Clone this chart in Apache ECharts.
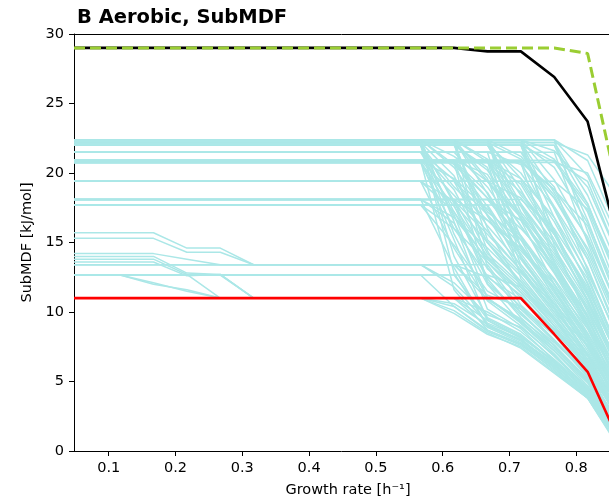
<!DOCTYPE html>
<html>
<head>
<meta charset="utf-8">
<script src="https://cdn.jsdelivr.net/npm/echarts@6/dist/echarts.min.js"></script>
<style>html,body{margin:0;padding:0;background:#fff}#c{width:609px;height:504px}</style>
</head>
<body>
<div id="c"></div>
<script>
const titleText = 'B Aerobic, SubMDF';
const xName = 'Growth rate [h\u207B\u00B9]';
const yName = 'SubMDF [kJ/mol]';
const xTicks = [0.1, 0.2, 0.3, 0.4, 0.5, 0.6, 0.7, 0.8];
const growthRates = [0.048, 0.117, 0.167, 0.217, 0.267, 0.317, 0.367, 0.417, 0.467, 0.517, 0.567, 0.617, 0.667, 0.717, 0.767, 0.817, 0.867];

const blackLine = [29,29,29,29,29,29,29,29,29,29,29,29,28.75,28.75,26.9,23.7,14.2];
const greenLine = [29,29,29,29,29,29,29,29,29,29,29,29,29,29,29,28.6,17.7];
const redLine = [11,11,11,11,11,11,11,11,11,11,11,11,11,11,8.4,5.7,0.4];

const cyanLines = [
  [15.7,15.7,15.7,14.6,14.6,13.4,13.4,13.4,13.4,13.4,13.4,12.1,9.8,8.9,6.9,4.6,1.8],
  [15.3,15.3,15.3,14.3,14.3,13.4,13.4,13.4,13.4,13.4,13.4,13.4,11.2,10.4,8.0,5.5,2.6],
  [14.2,14.2,14.2,13.8,13.4,13.4,13.4,13.4,13.4,13.4,13.4,13.4,12.5,10.9,8.8,6.3,3.2],
  [14.0,14.0,14.0,12.8,12.7,11.0,11.0,11.0,11.0,11.0,11.0,11.0,9.4,8.2,6.5,4.4,1.0],
  [13.8,13.8,13.8,12.7,11.0,11.0,11.0,11.0,11.0,11.0,11.0,10.6,9.1,8.0,6.3,4.1,0.7],
  [13.6,13.6,13.6,12.6,12.7,11.0,11.0,11.0,11.0,11.0,11.0,11.0,11.0,9.3,7.4,5.0,1.5],
  [13.4,13.4,13.4,13.4,13.4,13.4,13.4,13.4,13.4,13.4,13.4,13.4,10.9,9.5,7.6,5.2,1.6],
  [12.66,12.66,12.66,12.66,12.66,12.66,12.66,12.66,12.66,12.66,12.66,12.66,9.5,8.3,6.4,4.3,0.8],
  [12.66,12.66,12.0,11.6,11.0,11.0,11.0,11.0,11.0,11.0,11.0,10.4,8.7,7.7,6.0,4.0,0.6],
  [12.66,12.66,12.66,12.66,12.66,11.0,11.0,11.0,11.0,11.0,11.0,11.0,10.0,8.6,6.6,4.5,1.1],
  [12.66,12.66,12.1,11.5,11.0,11.0,11.0,11.0,11.0,11.0,11.0,9.9,8.4,7.5,5.7,3.8,0.1],
  [22.4,22.4,22.4,22.4,22.4,22.4,22.4,22.4,22.4,22.4,22.4,16.5,10.2,8.8,6.5,4.2,1.0],
  [22.0,22.0,22.0,22.0,22.0,22.0,22.0,22.0,22.0,22.0,22.0,18.0,12.4,9.6,7.4,5.0,2.2],
  [20.9,20.9,20.9,20.9,20.9,20.9,20.9,20.9,20.9,20.9,20.9,15.2,9.4,8.1,6.0,3.9,0.6],
  [19.4,19.4,19.4,19.4,19.4,19.4,19.4,19.4,19.4,19.4,19.4,14.6,10.8,9.0,6.8,4.5,1.5],
  [18.1,18.1,18.1,18.1,18.1,18.1,18.1,18.1,18.1,18.1,18.1,13.2,9.0,7.9,6.2,4.1,0.9],
  [17.7,17.7,17.7,17.7,17.7,17.7,17.7,17.7,17.7,17.7,17.7,14.8,11.5,10.2,7.9,5.6,2.4],
  [22.2,22.2,22.2,22.2,22.2,22.2,22.2,22.2,22.2,22.2,22.2,19.8,15.0,12.2,9.5,6.4,3.0],
  [21.5,21.5,21.5,21.5,21.5,21.5,21.5,21.5,21.5,21.5,21.5,17.2,13.6,11.0,8.6,6.1,2.8],
  [22.2,22.2,22.2,22.2,22.2,22.2,22.2,22.2,22.2,22.2,22.2,12.8,9.0,8.0,6.2,4.0,0.8],
  [20.9,20.9,20.9,20.9,20.9,20.9,20.9,20.9,20.9,20.9,20.9,11.6,8.7,7.7,5.8,3.8,0.5],
  [20.8,20.8,20.8,20.8,20.8,20.8,20.8,20.8,20.8,20.8,20.8,17.0,11.0,9.2,7.0,4.4,1.2],
  [22.0,22.0,22.0,22.0,22.0,22.0,22.0,22.0,22.0,22.0,22.0,14.0,9.6,8.4,6.4,4.3,1.1],
  [21.5,21.5,21.5,21.5,21.5,21.5,21.5,21.5,21.5,21.5,21.5,19.5,16.2,13.4,10.3,7.0,3.4],
  [20.75,20.75,20.75,20.75,20.75,20.75,20.75,20.75,20.75,20.75,20.75,16.0,12.6,10.4,8.0,5.3,1.8],
  [19.4,19.4,19.4,19.4,19.4,19.4,19.4,19.4,19.4,19.4,19.4,17.2,13.1,11.2,8.4,5.8,2.3],
  [22.4,22.4,22.4,22.4,22.4,22.4,22.4,22.4,22.4,22.4,22.4,20.4,17.0,13.8,10.6,7.5,3.8],
  [13.4,13.4,13.4,13.4,13.4,13.4,13.4,13.4,13.4,13.4,13.4,11.8,9.2,8.2,6.4,4.3,0.9],
  [18.1,18.1,18.1,18.1,18.1,18.1,18.1,18.1,18.1,18.1,18.1,16.4,12.0,10.0,7.6,5.1,1.7],
  [22.0,22.0,22.0,22.0,22.0,22.0,22.0,22.0,22.0,22.0,22.0,15.6,11.0,9.4,7.2,4.7,1.4],
  [22.4,22.4,22.4,22.4,22.4,22.4,22.4,22.4,22.4,22.4,22.4,20.6,18.2,15.4,12.0,8.2,4.0],
  [22.0,22.0,22.0,22.0,22.0,22.0,22.0,22.0,22.0,22.0,22.0,19.0,16.6,14.2,11.0,7.6,3.2],
  [20.9,20.9,20.9,20.9,20.9,20.9,20.9,20.9,20.9,20.9,20.9,18.4,15.8,13.0,10.0,6.6,2.6],
  [20.9,20.9,20.9,20.9,20.9,20.9,20.9,20.9,20.9,20.9,20.9,19.6,17.4,14.8,11.6,8.0,3.9],
  [22.2,22.2,22.2,22.2,22.2,22.2,22.2,22.2,22.2,22.2,22.2,17.8,15.0,12.6,9.6,6.4,2.6],
  [19.4,19.4,19.4,19.4,19.4,19.4,19.4,19.4,19.4,19.4,19.4,18.0,15.6,13.0,10.2,6.9,2.9],
  [18.1,18.1,18.1,18.1,18.1,18.1,18.1,18.1,18.1,18.1,18.1,16.8,14.6,12.2,9.4,6.2,2.2],
  [17.7,17.7,17.7,17.7,17.7,17.7,17.7,17.7,17.7,17.7,17.7,16.0,13.6,11.4,8.8,5.9,2.0],
  [22.4,22.4,22.4,22.4,22.4,22.4,22.4,22.4,22.4,22.4,22.4,21.2,19.4,16.8,13.2,9.0,4.6],
  [21.5,21.5,21.5,21.5,21.5,21.5,21.5,21.5,21.5,21.5,21.5,18.8,14.2,12.0,9.2,6.2,2.4],
  [20.75,20.75,20.75,20.75,20.75,20.75,20.75,20.75,20.75,20.75,20.75,17.6,14.0,11.8,9.0,6.0,2.0],
  [22.0,22.0,22.0,22.0,22.0,22.0,22.0,22.0,22.0,22.0,22.0,16.8,13.8,11.6,9.0,6.0,2.1],
  [22.4,22.4,22.4,22.4,22.4,22.4,22.4,22.4,22.4,22.4,22.4,22.4,18.5,14.0,10.8,7.2,3.1],
  [22.2,22.2,22.2,22.2,22.2,22.2,22.2,22.2,22.2,22.2,22.2,22.2,16.0,11.8,9.4,6.6,2.4],
  [20.9,20.9,20.9,20.9,20.9,20.9,20.9,20.9,20.9,20.9,20.9,20.9,14.4,10.5,8.3,5.4,1.9],
  [20.8,20.8,20.8,20.8,20.8,20.8,20.8,20.8,20.8,20.8,20.8,20.8,17.6,13.2,10.0,7.6,4.0],
  [19.4,19.4,19.4,19.4,19.4,19.4,19.4,19.4,19.4,19.4,19.4,19.4,15.0,12.0,9.0,6.2,2.6],
  [18.1,18.1,18.1,18.1,18.1,18.1,18.1,18.1,18.1,18.1,18.1,18.1,13.9,11.4,8.7,6.0,2.0],
  [22.0,22.0,22.0,22.0,22.0,22.0,22.0,22.0,22.0,22.0,22.0,22.0,20.2,16.8,13.0,9.4,5.0],
  [21.5,21.5,21.5,21.5,21.5,21.5,21.5,21.5,21.5,21.5,21.5,21.5,19.0,15.5,12.3,8.5,4.4],
  [22.4,22.4,22.4,22.4,22.4,22.4,22.4,22.4,22.4,22.4,22.4,22.4,19.6,13.4,10.6,7.9,3.9],
  [22.2,22.2,22.2,22.2,22.2,22.2,22.2,22.2,22.2,22.2,22.2,22.2,13.2,9.9,7.6,5.0,1.4],
  [20.9,20.9,20.9,20.9,20.9,20.9,20.9,20.9,20.9,20.9,20.9,20.9,18.6,14.8,11.4,8.0,3.4],
  [22.0,22.0,22.0,22.0,22.0,22.0,22.0,22.0,22.0,22.0,22.0,22.0,16.9,12.9,9.8,6.9,2.9],
  [17.7,17.7,17.7,17.7,17.7,17.7,17.7,17.7,17.7,17.7,17.7,17.7,12.2,9.8,7.8,5.5,1.6],
  [20.75,20.75,20.75,20.75,20.75,20.75,20.75,20.75,20.75,20.75,20.75,20.75,12.0,9.2,7.2,4.9,0.9],
  [22.4,22.4,22.4,22.4,22.4,22.4,22.4,22.4,22.4,22.4,22.4,22.4,21.0,17.8,14.6,10.8,5.9],
  [20.9,20.9,20.9,20.9,20.9,20.9,20.9,20.9,20.9,20.9,20.9,20.9,19.9,16.2,12.9,9.1,4.8],
  [22.4,22.4,22.4,22.4,22.4,22.4,22.4,22.4,22.4,22.4,22.4,22.4,20.8,18.6,15.6,11.6,6.6],
  [22.2,22.2,22.2,22.2,22.2,22.2,22.2,22.2,22.2,22.2,22.2,22.2,19.4,17.0,14.0,10.4,5.4],
  [20.9,20.9,20.9,20.9,20.9,20.9,20.9,20.9,20.9,20.9,20.9,20.9,17.2,15.2,12.4,9.0,4.6],
  [20.85,20.85,20.85,20.85,20.85,20.85,20.85,20.85,20.85,20.85,20.85,20.85,18.2,16.0,13.4,9.8,5.2],
  [19.4,19.4,19.4,19.4,19.4,19.4,19.4,19.4,19.4,19.4,19.4,19.4,17.0,14.4,11.8,8.4,4.0],
  [18.1,18.1,18.1,18.1,18.1,18.1,18.1,18.1,18.1,18.1,18.1,18.1,16.6,14.6,12.0,8.8,4.2],
  [22.0,22.0,22.0,22.0,22.0,22.0,22.0,22.0,22.0,22.0,22.0,22.0,20.4,14.6,11.6,8.2,3.8],
  [22.4,22.4,22.4,22.4,22.4,22.4,22.4,22.4,22.4,22.4,22.4,22.4,15.2,12.8,10.6,7.6,3.2],
  [22.4,22.4,22.4,22.4,22.4,22.4,22.4,22.4,22.4,22.4,22.4,22.4,22.4,18.8,14.6,10.0,5.2],
  [22.2,22.2,22.2,22.2,22.2,22.2,22.2,22.2,22.2,22.2,22.2,22.2,22.2,16.6,12.0,8.2,3.6],
  [20.9,20.9,20.9,20.9,20.9,20.9,20.9,20.9,20.9,20.9,20.9,20.9,20.9,15.4,11.6,7.4,3.0],
  [22.0,22.0,22.0,22.0,22.0,22.0,22.0,22.0,22.0,22.0,22.0,22.0,22.0,20.0,16.5,12.1,6.8],
  [20.75,20.75,20.75,20.75,20.75,20.75,20.75,20.75,20.75,20.75,20.75,20.75,20.75,17.6,13.4,9.2,4.6],
  [22.4,22.4,22.4,22.4,22.4,22.4,22.4,22.4,22.4,22.4,22.4,22.4,22.4,21.2,18.4,13.8,8.1],
  [19.4,19.4,19.4,19.4,19.4,19.4,19.4,19.4,19.4,19.4,19.4,19.4,19.4,16.2,12.8,8.8,4.1],
  [17.7,17.7,17.7,17.7,17.7,17.7,17.7,17.7,17.7,17.7,17.7,17.7,17.7,14.0,10.4,7.0,2.8],
  [21.5,21.5,21.5,21.5,21.5,21.5,21.5,21.5,21.5,21.5,21.5,21.5,21.5,13.9,10.6,6.9,2.2],
  [22.2,22.2,22.2,22.2,22.2,22.2,22.2,22.2,22.2,22.2,22.2,22.2,22.2,19.6,15.8,11.4,6.2],
  [20.9,20.9,20.9,20.9,20.9,20.9,20.9,20.9,20.9,20.9,20.9,20.9,20.9,12.4,9.6,6.4,1.8],
  [22.0,22.0,22.0,22.0,22.0,22.0,22.0,22.0,22.0,22.0,22.0,22.0,22.0,17.8,13.6,9.6,4.9],
  [20.85,20.85,20.85,20.85,20.85,20.85,20.85,20.85,20.85,20.85,20.85,20.85,20.85,19.2,15.2,10.9,5.8],
  [18.1,18.1,18.1,18.1,18.1,18.1,18.1,18.1,18.1,18.1,18.1,18.1,18.1,15.2,11.0,7.8,3.4],
  [22.4,22.4,22.4,22.4,22.4,22.4,22.4,22.4,22.4,22.4,22.4,22.4,22.4,14.6,11.2,7.8,2.6],
  [21.5,21.5,21.5,21.5,21.5,21.5,21.5,21.5,21.5,21.5,21.5,21.5,21.5,20.6,17.5,13.2,7.4],
  [13.4,13.4,13.4,13.4,13.4,13.4,13.4,13.4,13.4,13.4,13.4,13.4,13.4,10.2,8.4,5.8,1.6],
  [12.66,12.66,12.66,12.66,12.66,12.66,12.66,12.66,12.66,12.66,12.66,12.66,12.66,11.8,9.6,6.8,2.4],
  [22.2,22.2,22.2,22.2,22.2,22.2,22.2,22.2,22.2,22.2,22.2,22.2,22.2,21.0,18.2,14.6,9.4],
  [20.9,20.9,20.9,20.9,20.9,20.9,20.9,20.9,20.9,20.9,20.9,20.9,20.9,19.6,16.8,12.8,7.8],
  [19.4,19.4,19.4,19.4,19.4,19.4,19.4,19.4,19.4,19.4,19.4,19.4,19.4,18.2,15.0,11.2,6.4],
  [22.4,22.4,22.4,22.4,22.4,22.4,22.4,22.4,22.4,22.4,22.4,22.4,22.4,17.2,14.2,10.6,5.6],
  [20.9,20.9,20.9,20.9,20.9,20.9,20.9,20.9,20.9,20.9,20.9,20.9,20.9,17.0,13.2,9.6,4.4],
  [22.0,22.0,22.0,22.0,22.0,22.0,22.0,22.0,22.0,22.0,22.0,22.0,22.0,18.4,15.6,11.8,6.6],
  [18.1,18.1,18.1,18.1,18.1,18.1,18.1,18.1,18.1,18.1,18.1,18.1,18.1,16.6,13.8,10.2,5.6],
  [22.4,22.4,22.4,22.4,22.4,22.4,22.4,22.4,22.4,22.4,22.4,22.4,22.4,22.4,19.5,15.2,9.8],
  [22.2,22.2,22.2,22.2,22.2,22.2,22.2,22.2,22.2,22.2,22.2,22.2,22.2,22.2,17.4,12.6,6.8],
  [20.9,20.9,20.9,20.9,20.9,20.9,20.9,20.9,20.9,20.9,20.9,20.9,20.9,20.9,18.2,14.1,8.6],
  [22.0,22.0,22.0,22.0,22.0,22.0,22.0,22.0,22.0,22.0,22.0,22.0,22.0,22.0,20.8,17.6,12.4],
  [20.85,20.85,20.85,20.85,20.85,20.85,20.85,20.85,20.85,20.85,20.85,20.85,20.85,20.85,15.9,11.2,5.6],
  [21.5,21.5,21.5,21.5,21.5,21.5,21.5,21.5,21.5,21.5,21.5,21.5,21.5,21.5,19.0,13.0,7.6],
  [22.4,22.4,22.4,22.4,22.4,22.4,22.4,22.4,22.4,22.4,22.4,22.4,22.4,22.4,14.8,9.6,4.0],
  [19.4,19.4,19.4,19.4,19.4,19.4,19.4,19.4,19.4,19.4,19.4,19.4,19.4,19.4,15.6,10.8,5.2],
  [18.1,18.1,18.1,18.1,18.1,18.1,18.1,18.1,18.1,18.1,18.1,18.1,18.1,18.1,16.0,12.4,6.9],
  [22.2,22.2,22.2,22.2,22.2,22.2,22.2,22.2,22.2,22.2,22.2,22.2,22.2,22.2,20.4,16.4,10.8],
  [22.0,22.0,22.0,22.0,22.0,22.0,22.0,22.0,22.0,22.0,22.0,22.0,22.0,22.0,16.8,12.0,6.0],
  [22.4,22.4,22.4,22.4,22.4,22.4,22.4,22.4,22.4,22.4,22.4,22.4,22.4,22.4,21.6,19.0,13.6],
  [20.9,20.9,20.9,20.9,20.9,20.9,20.9,20.9,20.9,20.9,20.9,20.9,20.9,20.9,18.8,15.4,9.9],
  [17.7,17.7,17.7,17.7,17.7,17.7,17.7,17.7,17.7,17.7,17.7,17.7,17.7,17.7,14.4,10.2,4.6],
  [20.75,20.75,20.75,20.75,20.75,20.75,20.75,20.75,20.75,20.75,20.75,20.75,20.75,20.75,13.6,9.2,3.5],
  [22.2,22.2,22.2,22.2,22.2,22.2,22.2,22.2,22.2,22.2,22.2,22.2,22.2,22.2,18.6,14.4,8.9],
  [22.4,22.4,22.4,22.4,22.4,22.4,22.4,22.4,22.4,22.4,22.4,22.4,22.4,22.4,21.0,17.8,11.8],
  [21.5,21.5,21.5,21.5,21.5,21.5,21.5,21.5,21.5,21.5,21.5,21.5,21.5,21.5,17.6,13.8,7.8],
  [20.75,20.75,20.75,20.75,20.75,20.75,20.75,20.75,20.75,20.75,20.75,20.75,20.75,20.75,18.8,16.2,10.2],
  [22.0,22.0,22.0,22.0,22.0,22.0,22.0,22.0,22.0,22.0,22.0,22.0,22.0,22.0,15.6,11.4,5.2],
  [22.4,22.4,22.4,22.4,22.4,22.4,22.4,22.4,22.4,22.4,22.4,22.4,22.4,22.4,22.4,20.9,15.4],
  [22.2,22.2,22.2,22.2,22.2,22.2,22.2,22.2,22.2,22.2,22.2,22.2,22.2,22.2,22.2,18.4,12.8],
  [22.0,22.0,22.0,22.0,22.0,22.0,22.0,22.0,22.0,22.0,22.0,22.0,22.0,22.0,22.0,16.6,10.2],
  [22.4,22.4,22.4,22.4,22.4,22.4,22.4,22.4,22.4,22.4,22.4,22.4,22.4,22.4,22.4,19.8,14.2],
  [20.9,20.9,20.9,20.9,20.9,20.9,20.9,20.9,20.9,20.9,20.9,20.9,20.9,20.9,20.9,17.2,11.0],
  [21.5,21.5,21.5,21.5,21.5,21.5,21.5,21.5,21.5,21.5,21.5,21.5,21.5,21.5,21.5,15.0,8.8],
  [22.2,22.2,22.2,22.2,22.2,22.2,22.2,22.2,22.2,22.2,22.2,22.2,22.2,22.2,22.2,21.3,17.8],
  [22.0,22.0,22.0,22.0,22.0,22.0,22.0,22.0,22.0,22.0,22.0,22.0,22.0,22.0,22.0,17.8,11.8],
  [20.9,20.9,20.9,20.9,20.9,20.9,20.9,20.9,20.9,20.9,20.9,20.9,20.9,20.9,20.9,19.4,13.6],
  [20.75,20.75,20.75,20.75,20.75,20.75,20.75,20.75,20.75,20.75,20.75,20.75,20.75,20.75,20.75,20.0,15.0],
  [19.4,19.4,19.4,19.4,19.4,19.4,19.4,19.4,19.4,19.4,19.4,19.4,19.4,19.4,19.4,17.4,11.8],
  [22.4,22.4,22.4,22.4,22.4,22.4,22.4,22.4,22.4,22.4,22.4,22.4,22.4,22.4,22.4,15.8,9.6],
  [11.0,11.0,11.0,11.0,11.0,11.0,11.0,11.0,11.0,11.0,11.0,10.1,8.5,7.4,5.6,3.8,0.0],
  [11.0,11.0,11.0,11.0,11.0,11.0,11.0,11.0,11.0,11.0,11.0,11.0,8.9,7.8,6.1,4.2,0.4],
  [12.66,12.66,12.66,12.66,12.66,12.66,12.66,12.66,12.66,12.66,12.66,10.4,8.6,7.6,5.9,3.9,0.3]
];

const toPairs = vals => growthRates.map((x, i) => [x, vals[i]]);
const font = 'DejaVu Sans';

const series = cyanLines.map(v => ({
  type: 'line', data: toPairs(v), showSymbol: false, silent: true,
  lineStyle: { color: '#abe7e7', width: 1.5 }, z: 2
}));
series.push({ type: 'line', data: toPairs(redLine), showSymbol: false, silent: true,
  lineStyle: { color: '#ff0000', width: 2.6 }, z: 3 });
series.push({ type: 'line', data: toPairs(blackLine), showSymbol: false, silent: true,
  lineStyle: { color: '#000000', width: 2.6 }, z: 4 });
series.push({ type: 'line', data: toPairs(greenLine), showSymbol: false, silent: true,
  lineStyle: { color: '#9acd32', width: 3, type: [11, 5] }, z: 5 });

const chart = echarts.init(document.getElementById('c'), null, { renderer: 'canvas' });
chart.setOption({
  animation: false,
  backgroundColor: '#ffffff',
  title: { text: titleText, left: 72, top: 3,
    textStyle: { fontFamily: font, fontWeight: 'bold', fontSize: 19.5, color: '#000' } },
  grid: { left: 74, right: 0, top: 34, bottom: 53 },
  xAxis: [{
    type: 'value', min: 0.048, max: 0.849,
    name: xName, nameLocation: 'middle', nameGap: 32,
    nameTextStyle: { fontFamily: font, fontSize: 14.5, color: '#000', padding: [0, 0, 0, 13] },
    axisLine: { show: true, onZero: false, lineStyle: { color: '#000', width: 1 } },
    axisTick: { show: true, inside: false, length: 5, customValues: xTicks, lineStyle: { color: '#000' } },
    axisLabel: { customValues: xTicks, margin: 10, fontFamily: font, fontSize: 14.5, color: '#000',
      formatter: v => v.toFixed(1) },
    splitLine: { show: false }
  }, {
    type: 'value', position: 'top', min: 0.048, max: 0.849,
    axisLine: { show: true, onZero: false, lineStyle: { color: '#000', width: 1 } },
    axisTick: { show: false }, axisLabel: { show: false }, splitLine: { show: false }
  }],
  yAxis: {
    type: 'value', min: 0, max: 30, interval: 5,
    name: yName, nameLocation: 'middle', nameGap: 35,
    nameTextStyle: { fontFamily: font, fontSize: 14.5, color: '#000' },
    axisLine: { show: true, lineStyle: { color: '#000', width: 1 } },
    axisTick: { show: true, inside: false, length: 5, lineStyle: { color: '#000' } },
    axisLabel: { margin: 10, fontFamily: font, fontSize: 14.5, color: '#000' },
    splitLine: { show: false }
  },
  series: series
});
</script>
</body>
</html>
